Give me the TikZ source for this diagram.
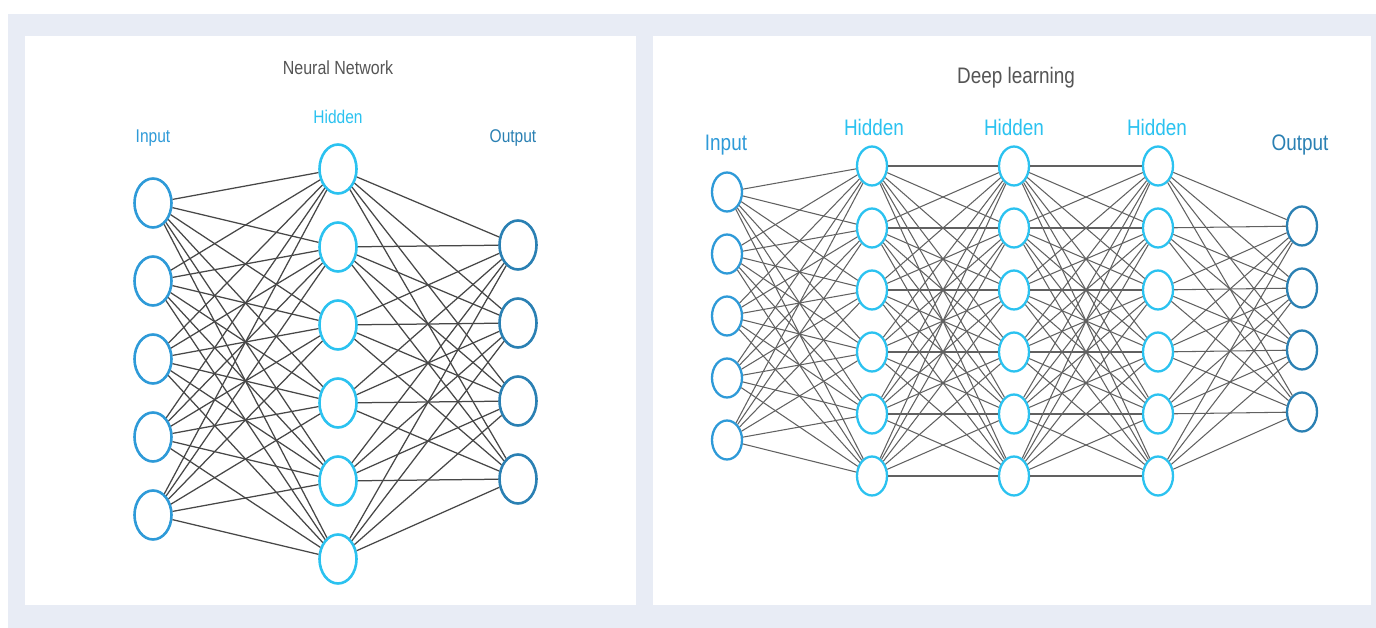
\documentclass[tikz,border=0pt]{standalone}
\usepackage{graphicx}
\usepackage{fontspec}
\setmainfont{Liberation Sans}
\usetikzlibrary{shapes.geometric}
\definecolor{bgc}{HTML}{E8ECF5}
\definecolor{incol}{HTML}{2E9AD8}
\definecolor{hidcol}{HTML}{2BC2F0}
\definecolor{outcol}{HTML}{2A80B3}
\definecolor{titlecol}{HTML}{555555}
\newcommand{\talltext}[1]{\scalebox{0.97}[1.15]{#1}}
\tikzset{
  neuronL/.style={ellipse, draw, fill=white, line width=2.6pt, inner sep=0pt, minimum width=37pt, minimum height=49pt},
  neuronR/.style={ellipse, draw, fill=white, line width=2.3pt, inner sep=0pt, minimum width=30pt, minimum height=39pt},
  edgeL/.style={draw=black!72, line width=1.25pt},
  edgeR/.style={draw=black!62, line width=1.05pt},
  lblL/.style={font=\fontsize{16}{18}\selectfont, inner sep=0pt},
  lblR/.style={font=\fontsize{19.5}{22}\selectfont, inner sep=0pt},
  titleL/.style={font=\fontsize{16.5}{19}\selectfont, text=titlecol, inner sep=0pt},
  titleR/.style={font=\fontsize{19.5}{22}\selectfont, text=titlecol, inner sep=0pt},
  panel/.style={fill=white, draw=none}
}
\begin{document}
\begin{tikzpicture}[x=1pt,y=-1pt]
\useasboundingbox (0,0) rectangle (1376,628);
\fill[white] (0,0) rectangle (1376,628);
\fill[bgc] (8,14) rectangle (1376,628);
\fill[panel] (25,36) rectangle (636,605);
\fill[panel] (653,36) rectangle (1371,605);

% ---------- Left panel: Neural Network ----------
\node[titleL] (tL) at (338,68) {\talltext{Neural Network}};
\node[lblL, text=incol] (liL) at (153,138) {\talltext{Input}};
\node[lblL, text=hidcol] (lhL) at (338,117) {\talltext{Hidden}};
\node[lblL, text=outcol] (loL) at (513,138) {\talltext{Output}};

\foreach \k in {1,...,5} \node[neuronL, draw=incol] (Li\k) at (153,{203+78*(\k-1)}) {};
\foreach \k in {1,...,6} \node[neuronL, draw=hidcol] (Lh\k) at (338,{169+78*(\k-1)}) {};
\foreach \k in {1,...,4} \node[neuronL, draw=outcol] (Lo\k) at (518,{245+78*(\k-1)}) {};

\foreach \a in {1,...,5} \foreach \b in {1,...,6} \draw[edgeL] (Li\a) -- (Lh\b);
\foreach \a in {1,...,6} \foreach \b in {1,...,4} \draw[edgeL] (Lh\a) -- (Lo\b);

% ---------- Right panel: Deep learning ----------
\node[titleR] (tR) at (1016,78) {\talltext{Deep learning}};
\node[lblR, text=incol] (liR) at (726,145) {\talltext{Input}};
\node[lblR, text=hidcol] (lh1R) at (874,127) {\talltext{Hidden}};
\node[lblR, text=hidcol] (lh2R) at (1014,127) {\talltext{Hidden}};
\node[lblR, text=hidcol] (lh3R) at (1157,127) {\talltext{Hidden}};
\node[lblR, text=outcol] (loR) at (1300,145) {\talltext{Output}};

\foreach \k in {1,...,5} \node[neuronR, draw=incol] (Ri\k) at (727,{192+62*(\k-1)}) {};
\foreach \k in {1,...,6} \node[neuronR, draw=hidcol] (Ra\k) at (872,{166+62*(\k-1)}) {};
\foreach \k in {1,...,6} \node[neuronR, draw=hidcol] (Rb\k) at (1014,{166+62*(\k-1)}) {};
\foreach \k in {1,...,6} \node[neuronR, draw=hidcol] (Rc\k) at (1158,{166+62*(\k-1)}) {};
\foreach \k in {1,...,4} \node[neuronR, draw=outcol] (Ro\k) at (1302,{226+62*(\k-1)}) {};

\foreach \a in {1,...,5} \foreach \b in {1,...,6} \draw[edgeR] (Ri\a) -- (Ra\b);
\foreach \a in {1,...,6} \foreach \b in {1,...,6} \draw[edgeR] (Ra\a) -- (Rb\b);
\foreach \a in {1,...,6} \foreach \b in {1,...,6} \draw[edgeR] (Rb\a) -- (Rc\b);
\foreach \a in {1,...,6} \foreach \b in {1,...,4} \draw[edgeR] (Rc\a) -- (Ro\b);
\end{tikzpicture}
\end{document}
